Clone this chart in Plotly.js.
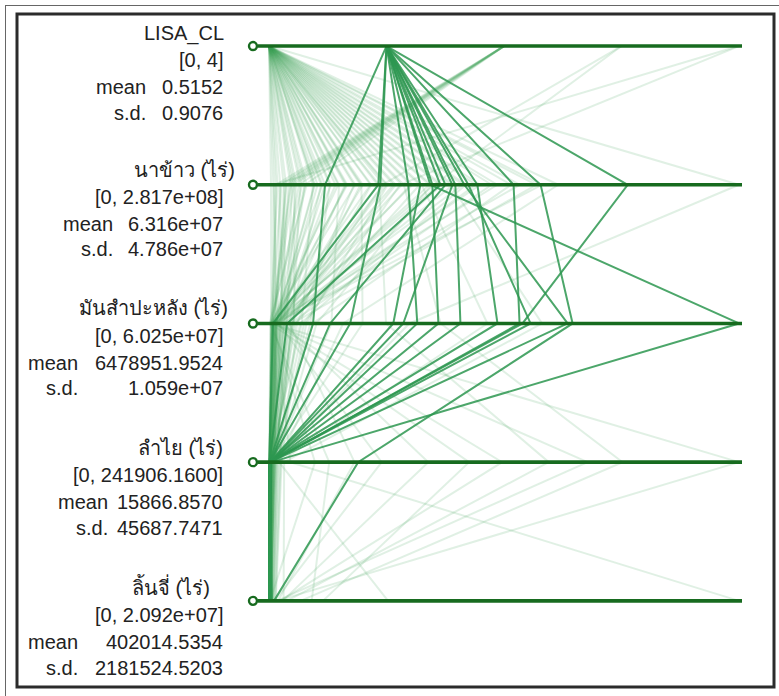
<!DOCTYPE html>
<html><head><meta charset="utf-8">
<script src="https://cdn.plot.ly/plotly-3.0.1.min.js"></script>
<style>html,body{margin:0;padding:0;background:#fff}#chart{width:779px;height:696px}</style>
</head><body><div id="chart"></div>
<script>
// ---- data ----
const dimensions = ["LISA_CL", "นาข้าว (ไร่)", "มันสำปะหลัง (ไร่)", "ลำไย (ไร่)", "ลิ้นจี่ (ไร่)"];
const rangeLabels = ["[0, 4]", "[0, 2.817e+08]", "[0, 6.025e+07]", "[0, 241906.1600]", "[0, 2.092e+07]"];
const meanLabels = ["0.5152", "6.316e+07", "6478951.9524", "15866.8570", "402014.5354"];
const sdLabels = ["0.9076", "4.786e+07", "1.059e+07", "45687.7471", "2181524.5203"];
const highlightCluster = 1;

const lisaCL = [
  1,1,1,1,1,1,1,1,1,1,1,1,1,1,1,1,1,
  0,0,0,0,0,0,0,0,0,0,0,0,0,0,0,0,0,0,0,0,0,0,0,0,0,0,0,0,0,0,0,0,0,0,
  0,0,0,0,0,0,0,0,0,0,0,0,0,0,0,0,0,0,0,0,0,0,0,0,0,0,0,0,0,0,0,0,0,0,
  2,2,2,2,2,2,2,2,2,2, 3,3, 4,4
];
const rice = [
  33.6e6,65.5e6,83.5e6,96.7e6,97.9e6,102.7e6,109.9e6,117.1e6,124.9e6,146.6e6,162.8e6,215.0e6,111.7e6,119.5e6,90.7e6,66.7e6,105.7e6,
  1.2e6,3.9e6,5.1e6,8.8e6,10.2e6,13.9e6,15.0e6,18.7e6,21.4e6,22.6e6,26.3e6,27.1e6,31.2e6,32.0e6,36.4e6,37.1e6,41.5e6,
  42.0e6,45.6e6,46.3e6,50.9e6,51.7e6,55.4e6,56.2e6,60.8e6,61.3e6,65.2e6,66.1e6,70.4e6,71.0e6,74.7e6,75.9e6,79.6e6,
  80.8e6,84.9e6,86.0e6,90.3e6,91.5e6,96.2e6,97.4e6,102.1e6,103.6e6,108.8e6,110.5e6,116.2e6,118.0e6,123.9e6,126.5e6,
  133.4e6,136.8e6,145.1e6,150.3e6,160.2e6,163.5e6,173.4e6,281.7e6,2.6e6,6.7e6,12.9e6,16.2e6,27.5e6,33.6e6,46.9e6,
  54.8e6,68.9e6,19.8e6,29.1e6,39.9e6,
  4.1e6,6.3e6,7.4e6,9.2e6,10.5e6,11.8e6,13.4e6,15.2e6,17.9e6,21.6e6, 68.0e6,99.0e6, 2.8e6,78.5e6
];
const cassava = [
  5.65e6,0.51e6,19.01e6,60.25e6,21.71e6,2.31e6,17.21e6,38.28e6,29.29e6,32.12e6,38.92e6,32.50e6,24.54e6,33.53e6,15.93e6,10.41e6,7.84e6,
  0.3e6,0.8e6,0.2e6,1.5e6,0.6e6,2.2e6,0.4e6,3.1e6,1.0e6,0.1e6,4.2e6,0.9e6,2.6e6,0.5e6,5.3e6,1.2e6,0.3e6,
  8.0e6,1.8e6,0.7e6,3.6e6,0.2e6,12.0e6,1.4e6,0.6e6,2.9e6,0.4e6,15.0e6,1.1e6,4.8e6,0.5e6,2.0e6,0.8e6,
  22.0e6,1.6e6,0.3e6,3.4e6,28.0e6,0.9e6,6.1e6,0.4e6,2.4e6,35.0e6,1.3e6,0.6e6,4.0e6,1.9e6,0.8e6,
  2.7e6,0.5e6,5.6e6,1.0e6,3.0e6,0.7e6,9.5e6,18.0e6,0.5e6,1.7e6,0.2e6,2.3e6,0.9e6,1.5e6,0.4e6,
  2.8e6,0.6e6,0.3e6,1.2e6,0.8e6,
  0.5e6,1.1e6,0.3e6,2.0e6,0.7e6,1.4e6,0.4e6,3.2e6,0.9e6,1.8e6, 2.5e6,0.6e6, 1.0e6,4.5e6
];
const longan = [
  400,100,900,1200,300,200,600,500,0,800,45900,300,700,200,500,400,600,
  500,1200,0,2500,300,4000,23700,800,1500,31000,200,3200,44000,600,1800,58000,900,
  2200,82000,400,6500,103000,1100,700,120000,2900,300,144000,1600,4400,164000,500,
  11000,182000,900,241906.16,2000,5200,600,3700,200,1400,7800,800,2600,400,1000,
  3300,500,6000,1300,700,2400,300,4800,1700,600,1900,400,3000,800,2100,
  500,5500,700,200,1300,900,
  400,1000,300,2000,600,1200,500,2800,700,1500, 3500,800, 600,2400
];
const lychee = [
  20e3,5e3,90e3,10e3,45e3,8e3,15e3,130e3,12e3,6e3,223e3,18e3,25e3,60e3,9e3,30e3,14e3,
  12e3,30e3,8e3,60e3,20e3,150e3,45e3,15e3,90e3,1900e3,5e3,35e3,400e3,10e3,70e3,250e3,25e3,
  120e3,600e3,18e3,300e3,2400e3,40e3,55e3,500e3,80e3,14e3,800e3,28e3,200e3,350e3,22e3,
  20920e3,1400e3,65e3,357e3,110e3,5300e3,32e3,170e3,9e3,48e3,650e3,26e3,95e3,38e3,75e3,
  130e3,16e3,280e3,52e3,24e3,88e3,11e3,190e3,42e3,7e3,33e3,13e3,58e3,19e3,44e3,
  9e3,230e3,21e3,6e3,36e3,27e3,
  10e3,20e3,8e3,45e3,15e3,30e3,12e3,70e3,18e3,40e3, 100e3,25e3, 14e3,60e3
];

// ---- layout constants (pixels) ----
const W = 779, H = 696;
const X0 = 269, X1 = 739;              // value 0 and axis max
const axisY = [46, 184.5, 323, 462, 601];
const span = X1 - X0;
const dy = axisY[1] - axisY[0];

const cols = [lisaCL, rice, cassava, longan, lychee];
const maxes = cols.map(c => Math.max(...c));
const n = lisaCL.length;

const traces = [];
const lightColor = 'rgba(60,160,90,0.16)';
const darkColor = 'rgba(45,150,80,0.85)';
function recordTrace(i, color, width) {
  return {
    type: 'scatter', mode: 'lines',
    x: cols.map((c, k) => c[i] / maxes[k]),
    y: cols.map((c, k) => k),
    line: {color: color, width: width},
    hoverinfo: 'skip', showlegend: false
  };
}
for (let i = 0; i < n; i++) if (lisaCL[i] !== highlightCluster) traces.push(recordTrace(i, lightColor, 2));
for (let i = 0; i < n; i++) if (lisaCL[i] === highlightCluster) traces.push(recordTrace(i, darkColor, 2));

// axis lines
const axStart = -(X0 - 258) / span, axEnd = (742 - X0) / span, circX = -(X0 - 253) / span;
dimensions.forEach((d, k) => {
  traces.push({type: 'scatter', mode: 'lines', x: [axStart, axEnd], y: [k, k],
    line: {color: '#176b1f', width: 3.6}, hoverinfo: 'skip', showlegend: false});
});
traces.push({type: 'scatter', mode: 'markers', x: dimensions.map(() => circX), y: dimensions.map((d, k) => k),
  marker: {symbol: 'circle', size: 8, color: '#ffffff', line: {color: '#176b1f', width: 2.4}},
  hoverinfo: 'skip', showlegend: false, cliponaxis: false});

// ---- labels ----
const font = {family: 'Liberation Sans, Arial, Noto Sans, DejaVu Sans, sans-serif', size: 20, color: '#222'};
const nameRight = [226, 237, 230, 225, 212];
const labelRight = [148, 115, 80, 110, 80];
const valueRight = 225;
const rowY = [[33, 60, 87, 113], [170, 197, 224, 249], [308, 336, 363, 388], [448, 475, 502, 528], [586, 615, 642, 668]];
const ann = [];
function A(text, px, py) {
  ann.push({text: text, xref: 'paper', yref: 'paper', x: px / W, y: 1 - py / H,
    xanchor: 'right', yanchor: 'middle', showarrow: false, font: font});
}
dimensions.forEach((d, k) => {
  A(d, nameRight[k], rowY[k][0]);
  A(rangeLabels[k], valueRight, rowY[k][1]);
  A('mean', labelRight[k], rowY[k][2]);
  A(meanLabels[k], valueRight, rowY[k][2]);
  A('s.d.', labelRight[k], rowY[k][3]);
  A(sdLabels[k], valueRight, rowY[k][3]);
});

const px2paper = (x) => x / W, py2paper = (y) => 1 - y / H;
const shapes = [
  {type: 'rect', xref: 'paper', yref: 'paper', x0: px2paper(17), x1: px2paper(774), y0: py2paper(14), y1: py2paper(687),
   line: {color: '#2b2b2b', width: 3}, fillcolor: 'rgba(0,0,0,0)'},
  {type: 'line', xref: 'paper', yref: 'paper', x0: px2paper(5), x1: 1, y0: py2paper(5.5), y1: py2paper(5.5),
   line: {color: '#666', width: 1}},
  {type: 'line', xref: 'paper', yref: 'paper', x0: px2paper(5.5), x1: px2paper(5.5), y0: py2paper(5), y1: 0,
   line: {color: '#666', width: 1}}
];

const layout = {
  width: W, height: H, margin: {l: 0, r: 0, t: 0, b: 0},
  paper_bgcolor: '#fff', plot_bgcolor: '#fff', showlegend: false, hovermode: false,
  xaxis: {range: [-X0 / span, (W - X0) / span], visible: false, fixedrange: true},
  yaxis: {range: [4 + (H - axisY[4]) / dy, -axisY[0] / dy], visible: false, fixedrange: true},
  annotations: ann, shapes: shapes
};
Plotly.newPlot('chart', traces, layout, {staticPlot: true, displayModeBar: false});
</script>
</body></html>
